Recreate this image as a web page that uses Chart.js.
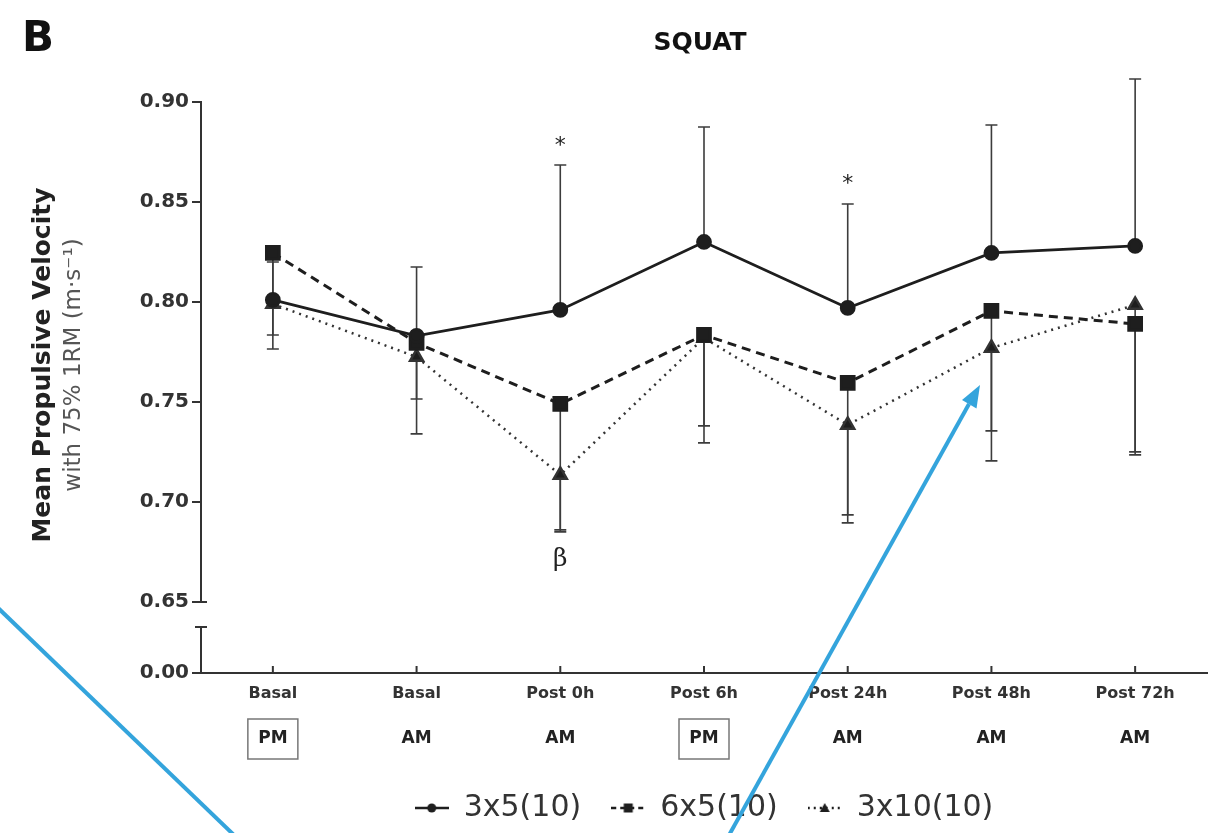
<!DOCTYPE html>
<html>
<head>
<meta charset="utf-8">
<title>SQUAT - Mean Propulsive Velocity</title>
<script src="https://cdn.jsdelivr.net/npm/chart.js@4.4.1/dist/chart.umd.min.js"></script>
<style>
  html, body { margin: 0; padding: 0; background: #fff; }
  #wrap { position: relative; width: 1223px; height: 833px; }
  #arrows { position: absolute; left: 0; top: 0; pointer-events: none; }
</style>
</head>
<body>
<div id="wrap">
  <canvas id="squatChart"></canvas>
  <!-- blue annotation arrows laid over the figure -->
  <svg id="arrows" width="1223" height="833">
    <line x1="-3" y1="607" x2="236" y2="837" stroke="#34a4dc" stroke-width="4"/>
    <line x1="728" y1="837" x2="969" y2="404" stroke="#34a4dc" stroke-width="4"/>
    <polygon points="980,385 976.5,408.5 962,400" fill="#34a4dc"/>
  </svg>
</div>
<script>
        // Data
        const categories = ['Basal', 'Basal', 'Post 0h', 'Post 6h', 'Post 24h', 'Post 48h', 'Post 72h'];
        const sessions = ['PM', 'AM', 'AM', 'PM', 'AM', 'AM', 'AM'];
        const yTicks = [0.65, 0.70, 0.75, 0.80, 0.85, 0.90];
        const yLowTicks = [0.00];

        const mpv3x5 = [0.801, 0.783, 0.796, 0.830, 0.797, 0.8245, 0.828];
        const sd3x5 = [0.019, 0.0345, 0.0725, 0.0575, 0.052, 0.064, 0.0835];
        const mpv6x5 = [0.8245, 0.7795, 0.749, 0.7835, 0.7595, 0.7955, 0.789];
        const sd6x5 = [0.041, 0.028, 0.063, 0.0455, 0.066, 0.06, 0.064];
        const mpv3x10 = [0.799, 0.7725, 0.7135, 0.782, 0.7385, 0.777, 0.7985];
        const sd3x10 = [0.0225, 0.0385, 0.0285, 0.0525, 0.049, 0.0565, 0.075];

        // significance marks: label, category index, value where it sits
        const sigLabels = ['*', '*', 'β'];
        const sigIndex = [2, 4, 2];
        const sigValue = [0.8815, 0.8625, 0.671];

        const yTitle = ['Mean Propulsive Velocity', 'with 75% 1RM (m·s⁻¹)'];
        const ink = '#1e1e1e';
        const FONT = '"DejaVu Sans", "Liberation Sans", sans-serif';

        Chart.defaults.font.family = FONT;
        Chart.defaults.color = '#333';

        // small line+marker icons for the legend
        function legendIcon(dash, marker) {
            const c = document.createElement('canvas');
            c.width = 34; c.height = 16;
            const g = c.getContext('2d');
            g.strokeStyle = ink; g.fillStyle = ink; g.lineWidth = 2.5;
            g.setLineDash(dash);
            g.beginPath(); g.moveTo(0, 8); g.lineTo(34, 8); g.stroke();
            g.setLineDash([]);
            g.beginPath();
            if (marker === 'circle') g.arc(17, 8, 4.5, 0, Math.PI * 2);
            if (marker === 'rect') g.rect(12.5, 3.5, 9, 9);
            if (marker === 'triangle') { g.moveTo(17, 3); g.lineTo(22, 12); g.lineTo(12, 12); g.closePath(); }
            g.fill();
            return c;
        }
        const icons = [legendIcon([], 'circle'), legendIcon([5, 4], 'rect'), legendIcon([2, 4], 'triangle')];

        // SD bars: 3x5 drawn upward, the other two downward
        const errorBars = {
            id: 'errorBars',
            beforeDatasetsDraw(chart) {
                const { ctx, scales: { x, y } } = chart;
                ctx.save();
                ctx.strokeStyle = '#3c3c3c';
                ctx.lineWidth = 1.6;
                chart.data.datasets.forEach(ds => {
                    ds.data.forEach((v, i) => {
                        const px = x.getPixelForValue(i);
                        const y0 = y.getPixelForValue(v);
                        const y1 = y.getPixelForValue(v + ds.errDir * ds.sd[i]);
                        ctx.beginPath();
                        ctx.moveTo(px, y0); ctx.lineTo(px, y1);
                        ctx.moveTo(px - 6, y1); ctx.lineTo(px + 6, y1);
                        ctx.stroke();
                    });
                });
                ctx.restore();
            }
        };

        // panel letter, title, axis title, session row, axis break, marks
        const decorations = {
            id: 'decorations',
            afterDraw(chart) {
                const { ctx, chartArea, scales: { x, y, yLow } } = chart;
                ctx.save();
                ctx.fillStyle = '#111';
                ctx.textBaseline = 'alphabetic';
                ctx.textAlign = 'left';
                ctx.font = 'bold 42px ' + FONT;
                ctx.fillText('B', 22, 51);
                ctx.textAlign = 'center';
                ctx.font = 'bold 25px ' + FONT;
                ctx.fillText('SQUAT', 700, 50);

                // y title, two lines
                ctx.save();
                ctx.translate(43, 365);
                ctx.rotate(-Math.PI / 2);
                ctx.textBaseline = 'middle';
                ctx.font = 'bold 25px ' + FONT;
                ctx.fillStyle = '#222';
                ctx.fillText(yTitle[0], 0, 0);
                ctx.restore();
                ctx.save();
                ctx.translate(74, 365);
                ctx.rotate(-Math.PI / 2);
                ctx.textBaseline = 'middle';
                ctx.font = '23px ' + FONT;
                ctx.fillStyle = '#555';
                ctx.fillText(yTitle[1], 0, 0);
                ctx.restore();

                // lower axis stub below the break
                const ax = chartArea.left;
                ctx.strokeStyle = '#333';
                ctx.lineWidth = 2;
                const stubTop = yLow.top + 25;
                ctx.beginPath();
                ctx.moveTo(ax, yLow.bottom); ctx.lineTo(ax, stubTop);
                ctx.moveTo(ax - 6, stubTop); ctx.lineTo(ax + 6, stubTop);
                const p65 = y.getPixelForValue(yTicks[0]);
                ctx.moveTo(ax, p65); ctx.lineTo(ax + 6, p65);
                // inward x tick marks
                categories.forEach((c, i) => {
                    const px = x.getPixelForValue(i);
                    ctx.moveTo(px, chartArea.bottom); ctx.lineTo(px, chartArea.bottom - 7);
                });
                ctx.stroke();

                // AM / PM row
                ctx.font = 'bold 17px ' + FONT;
                ctx.fillStyle = '#222';
                ctx.textBaseline = 'middle';
                const rowY = chartArea.bottom + 66;
                sessions.forEach((s, i) => {
                    const px = x.getPixelForValue(i);
                    ctx.fillText(s, px, rowY);
                    if (s === 'PM') {
                        ctx.strokeStyle = '#777';
                        ctx.lineWidth = 1.5;
                        ctx.strokeRect(px - 25, rowY - 20, 50, 40);
                    }
                });

                // significance marks
                sigLabels.forEach((t, i) => {
                    const px = x.getPixelForValue(sigIndex[i]);
                    const py = y.getPixelForValue(sigValue[i]);
                    ctx.fillStyle = '#222';
                    if (t === '*') {
                        ctx.font = '22px ' + FONT;
                        ctx.textBaseline = 'alphabetic';
                        ctx.fillText(t, px, py + 13);
                    } else {
                        ctx.font = '25px "DejaVu Serif", "Liberation Serif", serif';
                        ctx.textBaseline = 'middle';
                        ctx.fillText(t, px, py);
                    }
                });
                ctx.restore();
            }
        };

        const ctx = document.getElementById('squatChart').getContext('2d');
        const squatChart = new Chart(ctx, {
            type: 'line',
            data: {
                labels: categories,
                datasets: [{
                    label: '3x5(10)',
                    data: mpv3x5,
                    sd: sd3x5,
                    errDir: 1,
                    borderColor: ink,
                    backgroundColor: ink,
                    borderWidth: 2.8,
                    pointStyle: 'circle',
                    pointRadius: 6.5,
                    yAxisID: 'y'
                }, {
                    label: '6x5(10)',
                    data: mpv6x5,
                    sd: sd6x5,
                    errDir: -1,
                    borderColor: ink,
                    backgroundColor: ink,
                    borderWidth: 3,
                    borderDash: [9, 6],
                    pointStyle: 'rect',
                    pointRadius: 9,
                    yAxisID: 'y'
                }, {
                    label: '3x10(10)',
                    data: mpv3x10,
                    sd: sd3x10,
                    errDir: -1,
                    borderColor: '#333',
                    backgroundColor: ink,
                    borderWidth: 2.5,
                    borderDash: [2, 5],
                    pointStyle: 'triangle',
                    pointRadius: 7.5,
                    yAxisID: 'y'
                }]
            },
            options: {
                responsive: true,
                maintainAspectRatio: false,
                animation: false,
                layout: { padding: { top: 102, right: 16, left: 0, bottom: 0 } },
                elements: { line: { tension: 0 }, point: { borderWidth: 0, hoverRadius: 7 } },
                plugins: {
                    title: { display: false },
                    tooltip: { enabled: false },
                    legend: {
                        position: 'bottom',
                        fullSize: false,
                        labels: {
                            usePointStyle: true,
                            pointStyleWidth: 34,
                            padding: 30,
                            color: '#333',
                            font: { size: 30 },
                            generateLabels(chart) {
                                return chart.data.datasets.map((ds, i) => ({
                                    text: ds.label,
                                    pointStyle: icons[i],
                                    fillStyle: 'transparent',
                                    strokeStyle: 'transparent',
                                    lineWidth: 0,
                                    fontColor: '#333',
                                    hidden: false,
                                    datasetIndex: i
                                }));
                            }
                        }
                    }
                },
                scales: {
                    x: {
                        type: 'category',
                        offset: true,
                        grid: { display: false, drawTicks: false },
                        border: { display: true, color: '#333', width: 2 },
                        ticks: { padding: 11, color: '#333', font: { size: 16, weight: 'bold' }, maxRotation: 0, autoSkip: false },
                        afterFit: s => { s.height = 90; }
                    },
                    y: {
                        type: 'linear',
                        position: 'left',
                        stack: 'mpv',
                        stackWeight: 499,
                        weight: 1,
                        min: 0.65,
                        max: 0.90,
                        afterBuildTicks: s => { s.ticks = yTicks.map(v => ({ value: v })); },
                        grid: { drawOnChartArea: false, drawTicks: true, tickLength: 9, color: '#333', lineWidth: 2 },
                        border: { display: true, color: '#333', width: 2 },
                        ticks: { padding: 3, color: '#333', font: { size: 20, weight: 'bold' }, callback: v => v.toFixed(2) },
                        afterFit: s => { s.width = 201; }
                    },
                    yLow: {
                        type: 'linear',
                        position: 'left',
                        stack: 'mpv',
                        stackWeight: 71,
                        weight: 0,
                        min: 0,
                        max: 0.1,
                        afterBuildTicks: s => { s.ticks = yLowTicks.map(v => ({ value: v })); },
                        grid: { drawOnChartArea: false, drawTicks: true, tickLength: 9, color: '#333', lineWidth: 2 },
                        border: { display: false },
                        ticks: { padding: 3, color: '#333', font: { size: 20, weight: 'bold' }, callback: v => v.toFixed(2) },
                        afterFit: s => { s.width = 201; }
                    }
                }
            },
            plugins: [errorBars, decorations]
        });
</script>
</body>
</html>
